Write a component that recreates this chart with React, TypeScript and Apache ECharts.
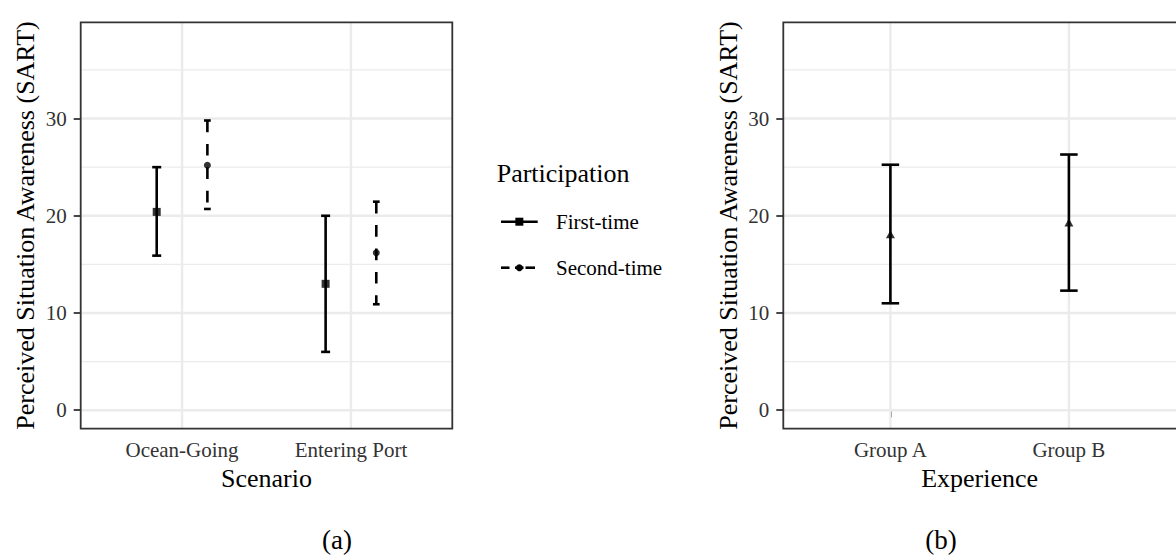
import React, { useEffect, useRef } from "react";
import * as echarts from "echarts";

// ---------- data ----------
const scenarios = ["Ocean-Going", "Entering Port"];
const participation = ["First-time", "Second-time"];
const firstMean = [20.4, 13.0];
const firstLow = [15.9, 6.0];
const firstHigh = [25.0, 20.0];
const secondMean = [25.2, 16.2];
const secondLow = [20.7, 10.9];
const secondHigh = [29.8, 21.45];

const groups = ["Group A", "Group B"];
const expMean = [18.1, 19.3];
const expLow = [11.0, 12.3];
const expHigh = [25.25, 26.3];

const yTicks = [0, 10, 20, 30];
const yMinor = [5, 15, 25, 35];
const yMin = -1.9;
const yMax = 39.9;
const dodge = 0.15;

// ---------- layout ----------
const P1 = { left: 80.7, top: 22.3, width: 371.6, height: 406.4 };
const P2 = { left: 783.3, top: 22.3, width: 404, height: 406.4 };
const FONT = "'Liberation Serif', 'Times New Roman', serif";

function errorBarSeries(idx: number, data: number[][], capW: number, dashed: boolean) {
  return {
    type: "custom",
    xAxisIndex: idx,
    yAxisIndex: idx,
    z: 5,
    silent: true,
    data,
    encode: { x: 0, y: [1, 2] },
    renderItem: (params: any, api: any) => {
      const x = api.value(0);
      const lo = api.value(1);
      const hi = api.value(2);
      const top = api.coord([x, hi]);
      const bot = api.coord([x, lo]);
      const hw = capW / 2;
      const st: any = { stroke: "#000", lineWidth: 2.6, lineCap: "butt" };
      if (dashed) st.lineDash = [11.7, 11.7];
      const capSt = { stroke: "#000", lineWidth: 2.6 };
      return {
        type: "group",
        children: [
          { type: "line", shape: { x1: top[0], y1: top[1], x2: bot[0], y2: bot[1] }, style: st },
          { type: "line", shape: { x1: top[0] - hw, y1: top[1], x2: top[0] + hw, y2: top[1] }, style: capSt },
          { type: "line", shape: { x1: bot[0] - hw, y1: bot[1], x2: bot[0] + hw, y2: bot[1] }, style: capSt },
        ],
      };
    },
  };
}

function hGridSeries(idx: number, values: number[], width: number) {
  return {
    type: "custom",
    xAxisIndex: idx,
    yAxisIndex: idx,
    z: 1,
    silent: true,
    data: values.map((v) => [1.5, v]),
    encode: { x: 0, y: 1 },
    renderItem: (params: any, api: any) => {
      const cs = params.coordSys;
      const p = api.coord([1.5, api.value(1)]);
      return {
        type: "line",
        shape: { x1: cs.x, y1: p[1], x2: cs.x + cs.width, y2: p[1] },
        style: { stroke: "#ebebeb", lineWidth: width },
      };
    },
  };
}

function vGridSeries(idx: number, values: number[]) {
  return {
    type: "custom",
    xAxisIndex: idx,
    yAxisIndex: idx,
    z: 1,
    silent: true,
    data: values.map((v) => [v, 20]),
    encode: { x: 0, y: 1 },
    renderItem: (params: any, api: any) => {
      const cs = params.coordSys;
      const p = api.coord([api.value(0), 20]);
      return {
        type: "line",
        shape: { x1: p[0], y1: cs.y, x2: p[0], y2: cs.y + cs.height },
        style: { stroke: "#ebebeb", lineWidth: 2.4 },
      };
    },
  };
}

function xAxis(idx: number, name: string, labels: string[]) {
  return {
    type: "value",
    gridIndex: idx,
    min: 0.4,
    max: 2.6,
    name,
    nameLocation: "middle",
    nameGap: 33,
    nameTextStyle: { fontFamily: FONT, fontSize: 26, color: "#000" },
    axisLine: { show: false },
    axisTick: { show: true, customValues: [1, 2], length: 7, lineStyle: { color: "#333", width: 1.8 } },
    axisLabel: {
      customValues: [1, 2],
      formatter: (v: number) => labels[Math.round(v) - 1] ?? "",
      margin: 11,
      fontFamily: FONT,
      fontSize: 21,
      color: "#333",
    },
    splitLine: { show: false },
  };
}

function yAxis(idx: number) {
  return {
    type: "value",
    gridIndex: idx,
    min: yMin,
    max: yMax,
    name: "Perceived Situation Awareness (SART)",
    nameLocation: "middle",
    nameGap: 42,
    nameTextStyle: { fontFamily: FONT, fontSize: 26, color: "#000" },
    axisLine: { show: false },
    axisTick: { show: true, customValues: yTicks, length: 7, lineStyle: { color: "#333", width: 1.8 } },
    axisLabel: {
      customValues: yTicks,
      margin: 14,
      fontFamily: FONT,
      fontSize: 21,
      color: "#333",
    },
    splitLine: { show: false },
  };
}

export default function App() {
  const ref = useRef<HTMLDivElement>(null);
  useEffect(() => {
    if (!ref.current) return;
    const chart = echarts.init(ref.current, undefined, { renderer: "svg" });

    const firstData = scenarios.map((_, i) => [i + 1 - dodge, firstLow[i], firstHigh[i]]);
    const secondData = scenarios.map((_, i) => [i + 1 + dodge, secondLow[i], secondHigh[i]]);
    const expData = groups.map((_, i) => [i + 1, expLow[i], expHigh[i]]);

    const legendX = 501;
    const legendY = [221.7, 267.7];

    const option: any = {
      animation: false,
      backgroundColor: "#fff",
      grid: [
        { ...P1, containLabel: false },
        { ...P2, containLabel: false },
      ],
      xAxis: [xAxis(0, "Scenario", scenarios), xAxis(1, "Experience", groups)],
      yAxis: [yAxis(0), yAxis(1)],
      series: [
        hGridSeries(0, yMinor, 1.3),
        hGridSeries(0, yTicks, 2.4),
        vGridSeries(0, [1, 2]),
        hGridSeries(1, yMinor, 1.3),
        hGridSeries(1, yTicks, 2.4),
        vGridSeries(1, [1, 2]),
        errorBarSeries(0, firstData, 9, false),
        errorBarSeries(0, secondData, 6.7, true),
        errorBarSeries(1, expData, 17.5, false),
        {
          type: "scatter",
          name: participation[0],
          xAxisIndex: 0,
          yAxisIndex: 0,
          z: 6,
          silent: true,
          symbol: "rect",
          symbolSize: 8,
          itemStyle: { color: "#000" },
          data: scenarios.map((_, i) => [i + 1 - dodge, firstMean[i]]),
        },
        {
          type: "scatter",
          name: participation[1],
          xAxisIndex: 0,
          yAxisIndex: 0,
          z: 6,
          silent: true,
          symbol: "circle",
          symbolSize: 7,
          itemStyle: { color: "#000" },
          data: scenarios.map((_, i) => [i + 1 + dodge, secondMean[i]]),
        },
        {
          type: "scatter",
          xAxisIndex: 1,
          yAxisIndex: 1,
          z: 6,
          silent: true,
          symbol: "triangle",
          symbolSize: [9, 8],
          itemStyle: { color: "#000" },
          data: groups.map((_, i) => [i + 1, expMean[i]]),
        },
      ],
      graphic: [
        {
          type: "rect",
          z: 100,
          silent: true,
          shape: { x: P1.left, y: P1.top, width: P1.width, height: P1.height },
          style: { fill: "none", stroke: "#333", lineWidth: 1.8 },
        },
        {
          type: "rect",
          z: 100,
          silent: true,
          shape: { x: P2.left, y: P2.top, width: P2.width, height: P2.height },
          style: { fill: "none", stroke: "#333", lineWidth: 1.8 },
        },
        {
          type: "text",
          x: 496.7,
          y: 173,
          style: { text: "Participation", font: `26px ${FONT}`, fill: "#000", textVerticalAlign: "middle" },
        },
        // legend key 1: solid line + square
        {
          type: "line",
          shape: { x1: legendX, y1: legendY[0], x2: legendX + 36.7, y2: legendY[0] },
          style: { stroke: "#000", lineWidth: 2.6 },
        },
        {
          type: "rect",
          shape: { x: legendX + 18.35 - 4, y: legendY[0] - 4, width: 8, height: 8 },
          style: { fill: "#000" },
        },
        {
          type: "text",
          x: 556,
          y: legendY[0],
          style: { text: participation[0], font: `21px ${FONT}`, fill: "#000", textVerticalAlign: "middle" },
        },
        // legend key 2: dashed line + circle
        {
          type: "line",
          shape: { x1: legendX, y1: legendY[1], x2: legendX + 8.5, y2: legendY[1] },
          style: { stroke: "#000", lineWidth: 2.6 },
        },
        {
          type: "line",
          shape: { x1: legendX + 24.5, y1: legendY[1], x2: legendX + 34, y2: legendY[1] },
          style: { stroke: "#000", lineWidth: 2.6 },
        },
        {
          type: "line",
          shape: { x1: legendX + 14, y1: legendY[1], x2: legendX + 22.5, y2: legendY[1] },
          style: { stroke: "#000", lineWidth: 2.6 },
        },
        {
          type: "circle",
          shape: { cx: legendX + 18.35, cy: legendY[1], r: 3.5 },
          style: { fill: "#000" },
        },
        {
          type: "text",
          x: 556,
          y: legendY[1],
          style: { text: participation[1], font: `21px ${FONT}`, fill: "#000", textVerticalAlign: "middle" },
        },
        {
          type: "text",
          x: 337,
          y: 540,
          style: { text: "(a)", font: `27px ${FONT}`, fill: "#000", textAlign: "center", textVerticalAlign: "middle" },
        },
        {
          type: "text",
          x: 941,
          y: 540,
          style: { text: "(b)", font: `27px ${FONT}`, fill: "#000", textAlign: "center", textVerticalAlign: "middle" },
        },
      ],
    };
    chart.setOption(option);
    return () => chart.dispose();
  }, []);
  return (
    <div
      ref={ref}
      style={{ position: "absolute", left: 0, top: 0, width: 1176, height: 555, background: "#fff" }}
    />
  );
}
